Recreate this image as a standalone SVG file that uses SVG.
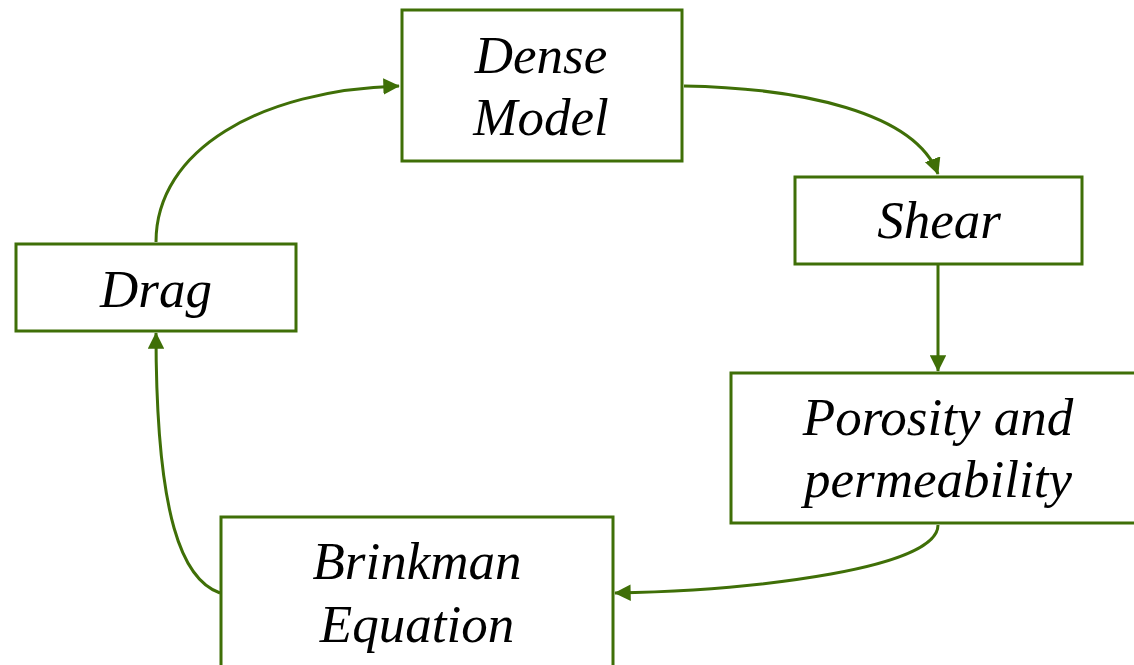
<svg xmlns="http://www.w3.org/2000/svg" width="1134" height="665" viewBox="0 0 1134 665">
<style>
.box{fill:#fff;stroke:#3f6f07;stroke-width:3}
.lbl{font-family:"Liberation Serif","Times New Roman",serif;font-style:italic;font-size:53px;fill:#000;text-anchor:middle}
.con{fill:none;stroke:#3f6f07;stroke-width:3}
</style>
<defs>
<marker id="ah" viewBox="0 0 10 10" refX="9.5" refY="5" markerWidth="5.5" markerHeight="5.5" markerUnits="strokeWidth" orient="auto">
<path d="M0,0 L10,5 L0,10 z" fill="#3f6f07"/>
</marker>
</defs>
<rect width="1134" height="665" fill="#fff"/>
<g id="connectors">
<path class="con" marker-end="url(#ah)" d="M156,242 C156,150 260,90 399,86"/>
<path class="con" marker-end="url(#ah)" d="M684,86 C800,88 915,112 938,174"/>
<path class="con" marker-end="url(#ah)" d="M938,265 L938,371"/>
<path class="con" marker-end="url(#ah)" d="M938,525 C938,568 760,590 615,593"/>
<path class="con" marker-end="url(#ah)" d="M220,593 C183,580 156,520 156,333"/>
</g>
<g id="dense">
<rect class="box" x="402" y="10" width="280" height="151"/>
<text class="lbl" x="541" y="73">Dense</text>
<text class="lbl" x="541" y="135">Model</text>
</g>
<g id="shear">
<rect class="box" x="795" y="177" width="287" height="87"/>
<text class="lbl" x="939" y="238">Shear</text>
</g>
<g id="drag">
<rect class="box" x="16" y="244" width="280" height="87"/>
<text class="lbl" x="156" y="307">Drag</text>
</g>
<g id="porosity">
<rect class="box" x="731" y="373" width="420" height="150"/>
<text class="lbl" x="938" y="435">Porosity and</text>
<text class="lbl" x="938" y="497">permeability</text>
</g>
<g id="brinkman">
<rect class="box" x="221" y="517" width="392" height="170"/>
<text class="lbl" x="417" y="579">Brinkman</text>
<text class="lbl" x="417" y="642">Equation</text>
</g>
</svg>
